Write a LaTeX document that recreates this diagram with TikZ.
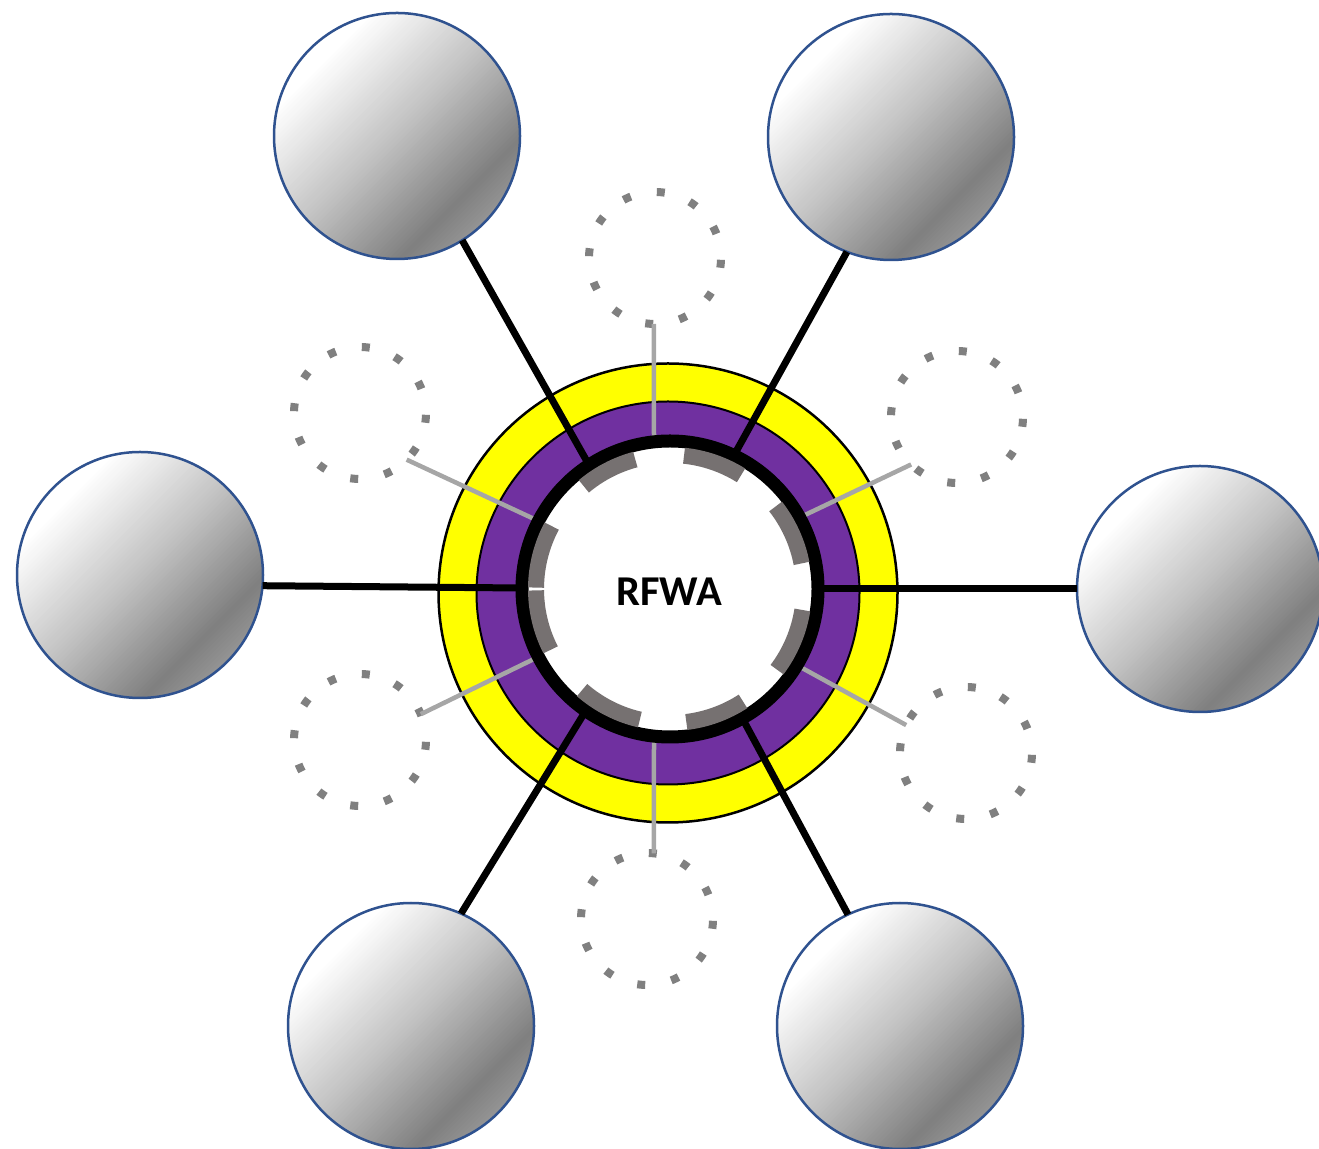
\documentclass[tikz,border=0pt]{standalone}
\usepackage{fontspec}
\setmainfont{Carlito}
\definecolor{ringyellow}{RGB}{255,255,0}
\definecolor{ringpurple}{RGB}{112,48,160}
\definecolor{ballblue}{RGB}{47,82,143}
\definecolor{arcgray}{RGB}{118,113,113}
\definecolor{linkgray}{RGB}{166,166,166}
\definecolor{dotgray}{RGB}{128,128,128}
\newcommand\ballgradient{%
  \begin{scope}[shift={(path picture bounding box.center)}]
    \foreach \i in {0,...,79} {
      \pgfmathsetmacro\ballt{(\i+0.5)/80}
      \pgfmathsetmacro\ballg{int(10*(max(0,min(\ballt,0.5)-0.08)*58.8 + max(0,min(\ballt,0.86)-0.5)*70.8 - max(0,\ballt-0.86)*64.3))/10}
      \pgfmathsetmacro\balla{-125+\i*3.125}
      \pgfmathsetmacro\ballb{-124.2+(\i+1)*3.125}
      \fill[black!\ballg!white]
        ({0.7071*(\balla-130)},{0.7071*(-\balla-130)}) --
        ({0.7071*(\balla+130)},{0.7071*(-\balla+130)}) --
        ({0.7071*(\ballb+130)},{0.7071*(-\ballb+130)}) --
        ({0.7071*(\ballb-130)},{0.7071*(-\ballb-130)}) -- cycle;
    }
  \end{scope}}
\begin{document}
\begin{tikzpicture}[x=1pt,y=1pt,
  ball/.style={circle, draw=ballblue, line width=2.5pt, minimum size=246pt, inner sep=0pt, outer sep=0pt, path picture={\ballgradient}},
  dotring/.style={circle, draw=dotgray, line width=8pt, minimum size=132pt, inner sep=0pt, outer sep=0pt, dash pattern=on 8pt off 26.56pt, dash phase=9.8pt},
  spoke/.style={line width=7pt, draw=black},
  link/.style={line width=4.5pt, draw=linkgray},
  notch/.style={line width=16pt, draw=arcgray},
  ringband/.style={circle, draw=black, inner sep=0pt, outer sep=0pt}]
\useasboundingbox (0,0) rectangle (1319,1148);

% outer balls
\node[ball] (bTL) at (397,1012) {};
\node[ball] (bTR) at (891,1011) {};
\node[ball] (bL)  at (140,573) {};
\node[ball] (bR)  at (1200,559) {};
\node[ball] (bBL) at (411,122) {};
\node[ball] (bBR) at (900,122) {};

% dotted circles
\node[dotring] (dT)  at (655,890) {};
\node[dotring] (dUR) at (957,731) {};
\node[dotring] (dLR) at (966,395) {};
\node[dotring] (dB)  at (647,229) {};
\node[dotring] (dLL) at (360,408) {};
\node[dotring] (dUL) at (360,735) {};

% rings
\node[ringband, fill=ringyellow, line width=2.5pt, minimum size=459pt] (yring) at (668,555) {};
\node[ringband, fill=ringpurple, line width=2pt, minimum size=383pt] (pring) at (668,555) {};

% connector ends on the core ring
\coordinate (eTL) at (587,686.5);
\coordinate (eTR) at (735,694.5);
\coordinate (eR)  at (820,559);
\coordinate (eL)  at (520,560);
\coordinate (eBL) at (584,434.4);
\coordinate (eBR) at (743,428.5);
\coordinate (lT)  at (654,707);
\coordinate (lUR) at (800.5,630.9);
\coordinate (lLR) at (798.4,482);
\coordinate (lB)  at (654,409);
\coordinate (lLL) at (535.6,489.8);
\coordinate (lUL) at (537.4,627.5);

% spokes
\draw[spoke] (bTL.302) -- (eTL);
\draw[spoke] (bTR.249) -- (eTR);
\draw[spoke] (bR.180)  -- (eR);
\draw[spoke] (bL.355)  -- (eL);
\draw[spoke] (bBL.66)  -- (eBL);
\draw[spoke] (bBR.115) -- (eBR);

% links to dotted circles
\draw[link] (dT.269)  -- (lT);
\draw[link] (dUR.226) -- (lUR);
\draw[link] (dLR.155) -- (lLR);
\draw[link] (dB.84)   -- (lB);
\draw[link] (dLL.23)  -- (lLL);
\draw[link] (dUL.315) -- (lUL);

% core ring
\node[circle, draw=black, fill=white, line width=13pt, minimum size=296pt, inner sep=0pt] (core) at (670,559) {};
\coordinate (C) at (670,559);

% inner gray notches
\draw[notch] (C) ++(105:134) arc[start angle=105, end angle=130, radius=134];
\draw[notch] (C) ++(58:134) arc[start angle=58, end angle=84, radius=134];
\draw[notch] (C) ++(11:134) arc[start angle=11, end angle=38, radius=134];
\draw[notch] (C) ++(-37:134) arc[start angle=-37, end angle=-9, radius=134];
\draw[notch] (C) ++(-83:134) arc[start angle=-83, end angle=-57, radius=134];
\draw[notch] (C) ++(229:134) arc[start angle=229, end angle=257, radius=134];
\draw[notch] (C) ++(180.6:134) arc[start angle=180.6, end angle=207, radius=134];
\draw[notch] (C) ++(152:134) arc[start angle=152, end angle=179.4, radius=134];

% label
\node[inner sep=0pt] (label) at (669,556) {\fontsize{42.5}{50}\selectfont\bfseries RFWA};
\end{tikzpicture}
\end{document}
